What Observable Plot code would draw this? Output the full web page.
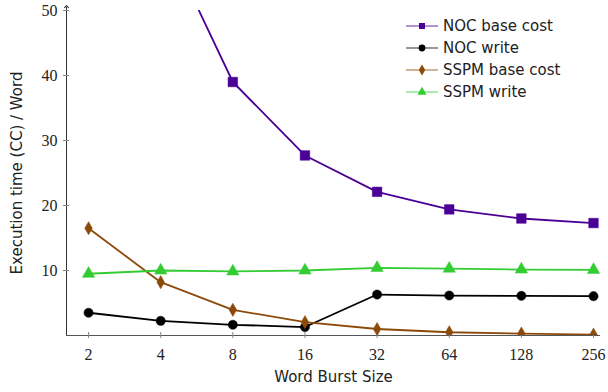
<!DOCTYPE html>
<html><head><meta charset="utf-8">
<script src="https://cdn.jsdelivr.net/npm/d3@7"></script>
<script src="https://cdn.jsdelivr.net/npm/@observablehq/plot@0.6"></script>
<style>
body{margin:0;background:#fff}
#wrap{position:relative;width:608px;height:392px}
#legend{position:absolute;left:404px;top:15px;font-family:"DejaVu Sans",sans-serif;font-size:15px;color:#222}
#legend .row{display:flex;align-items:center;height:22px}
#legend svg{margin-right:3px}
</style>
</head><body>
<div id="wrap"><div id="legend"></div></div>
<script>
const burstSizes = [2, 4, 8, 16, 32, 64, 128, 256];
const yTicks = [10, 20, 30, 40, 50];
const seriesNames = ["NOC base cost", "NOC write", "SSPM base cost", "SSPM write"];
const nocBase   = [107, 62.4, 39.0, 27.7, 22.1, 19.4, 18.0, 17.3];
const nocWrite  = [3.5, 2.25, 1.65, 1.3, 6.3, 6.15, 6.1, 6.05];
const sspmBase  = [16.5, 8.2, 3.95, 2.05, 1.0, 0.5, 0.3, 0.15];
const sspmWrite = [9.5, 10.0, 9.85, 10.0, 10.4, 10.3, 10.15, 10.1];
const colors = ["#4b0096", "#000000", "#8c4a0a", "#33cc33"];
const symbols = ["square", "circle", "diamond", "triangle"];
const radii = [5.4, 4.6, 4.0, 4.6];

const allValues = [nocBase, nocWrite, sspmBase, sspmWrite];
const rows = [];
seriesNames.forEach((s, i) => burstSizes.forEach((b, j) => rows.push({series: s, x: b, y: allValues[i][j]})));

const xDomain = [1.618, 273.8];
const sans = "DejaVu Sans";
const marks = [
  Plot.link([0], {x1: () => xDomain[0], x2: () => xDomain[0], y1: () => 0, y2: () => 50.6, stroke: "#333", strokeWidth: 1, markerEnd: "arrow", clip: false}),
  Plot.ruleY([0], {stroke: "#555", strokeWidth: 1}),
  Plot.axisY({ticks: yTicks, tickSize: 6, dx: 3, tickFormat: () => "", label: null, stroke: "#888"}),
  Plot.axisY({ticks: yTicks, tickSize: 0, tickPadding: 9, label: null, fontFamily: "Liberation Serif", fontSize: 16, fill: "#222"}),
  Plot.axisX({ticks: burstSizes, tickSize: 6, dy: -3, tickFormat: () => "", label: null, stroke: "#888"}),
  Plot.axisX({ticks: burstSizes, tickSize: 0, tickPadding: 13, tickFormat: d => String(d), label: null, fontFamily: "Liberation Serif", fontSize: 16, fill: "#222"}),
  Plot.text(["Execution time (CC) / Word"], {frameAnchor: "left", textAnchor: "middle", rotate: -90, dx: -49, fontFamily: sans, fontSize: 15, fill: "#222"}),
  Plot.text(["Word Burst Size"], {frameAnchor: "bottom", dy: 46, fontFamily: sans, fontSize: 15, fill: "#222"})
];
seriesNames.forEach((s, i) => {
  const d = rows.filter(r => r.series === s);
  marks.push(Plot.line(d, {x: "x", y: "y", stroke: colors[i], strokeWidth: 1.8, clip: true}));
  marks.push(Plot.dot(d, {x: "x", y: "y", symbol: () => symbols[i], r: radii[i], fill: colors[i], stroke: colors[i], strokeWidth: 0.5, clip: true}));
});

const chart = Plot.plot({
  width: 608, height: 392,
  marginLeft: 66, marginRight: 8, marginTop: 10, marginBottom: 57,
  x: {type: "log", base: 2, domain: xDomain},
  y: {domain: [0, 50]},
  style: {background: "white", color: "#222", fontSize: "15px"},
  marks
});
document.getElementById("wrap").prepend(chart);

const legend = d3.select("#legend");
seriesNames.forEach((s, i) => {
  const row = legend.append("div").attr("class", "row");
  const svg = row.append("svg").attr("width", 36).attr("height", 14);
  svg.append("line").attr("x1", 2).attr("x2", 34).attr("y1", 7).attr("y2", 7)
    .attr("stroke", colors[i]).attr("stroke-width", 1.2).attr("stroke-opacity", 0.7);
  const sym = {square: d3.symbolSquare, circle: d3.symbolCircle, diamond: d3.symbolDiamond, triangle: d3.symbolTriangle}[symbols[i]];
  svg.append("path").attr("transform", "translate(18,7)").attr("d", d3.symbol(sym, 36)()).attr("fill", colors[i]);
  row.append("span").text(s);
});
</script>
</body></html>
